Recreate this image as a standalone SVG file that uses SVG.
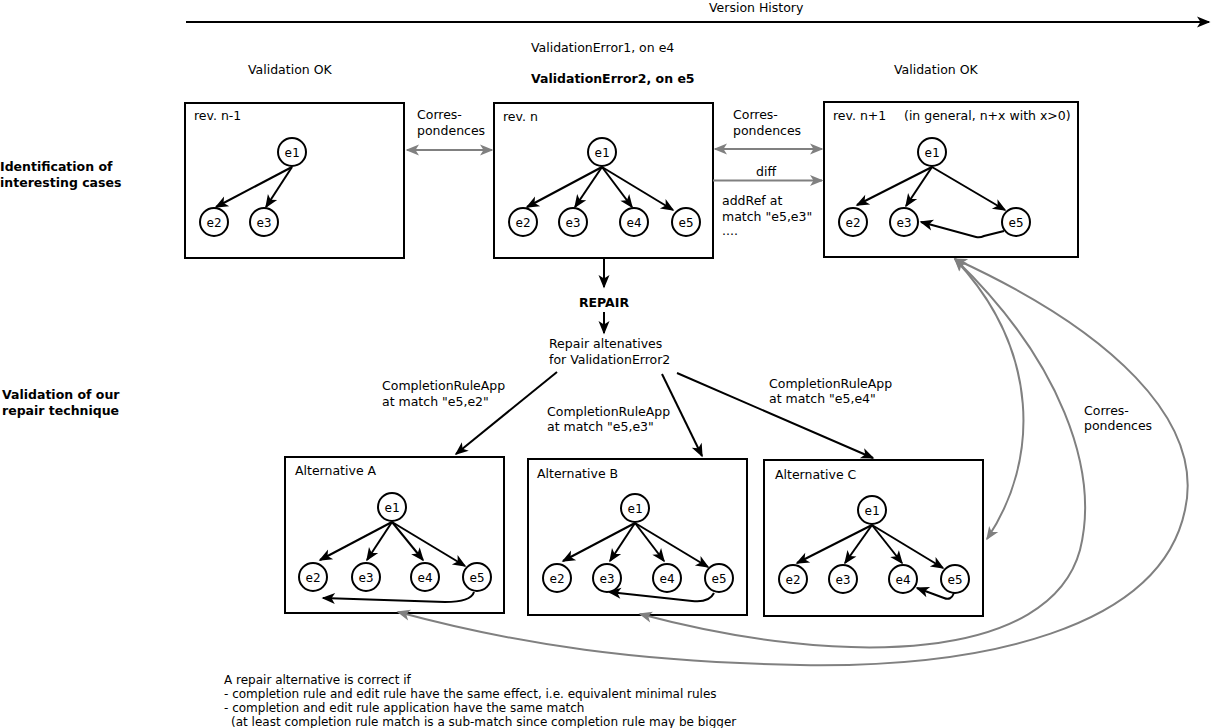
<svg xmlns="http://www.w3.org/2000/svg" width="1214" height="728" viewBox="0 0 1214 728">
<style>
.t{font-family:"DejaVu Sans",sans-serif;font-size:12.5px;fill:#000}
.s{font-family:"DejaVu Sans",sans-serif;font-size:12px;fill:#000}
.b{font-family:"DejaVu Sans",sans-serif;font-size:12.5px;font-weight:bold;fill:#000}
.m{font-family:"DejaVu Sans Mono",monospace;font-size:12.5px;text-anchor:middle;fill:#000}
.box{fill:#fff;stroke:#000;stroke-width:2}
.n{fill:#fff;stroke:#000;stroke-width:2}
.e{fill:none;stroke:#000;stroke-width:2;marker-end:url(#ab)}
.g{fill:none;stroke:#808080;stroke-width:2}
</style>
<defs>
<marker id="ab" markerUnits="userSpaceOnUse" viewBox="-13 -6 15 12" refX="0" refY="0" markerWidth="15" markerHeight="12" orient="auto">
<path d="M1.5,0 L-12,-5.5 L-8.5,0 L-12,5.5 Z" fill="#000"/>
</marker>
<marker id="ag" markerUnits="userSpaceOnUse" viewBox="-13 -6 15 12" refX="0" refY="0" markerWidth="15" markerHeight="12" orient="auto-start-reverse">
<path d="M1.5,0 L-12,-5.5 L-8.5,0 L-12,5.5 Z" fill="#808080"/>
</marker>
</defs>
<rect width="1214" height="728" fill="#fff"/>

<g id="labels">
<text class="t" x="709" y="12">Version History</text>
<text class="t" x="531" y="52">ValidationError1, on e4</text>
<text class="t" x="248" y="74">Validation OK</text>
<text class="b" x="531" y="83">ValidationError2, on e5</text>
<text class="t" x="894" y="74">Validation OK</text>
<text class="b" x="0" y="171">Identification of</text>
<text class="b" x="0" y="187">interesting cases</text>
<text class="b" x="2" y="399">Validation of our</text>
<text class="b" x="2" y="415">repair technique</text>
<text class="t" x="417" y="119">Corres-</text>
<text class="t" x="417" y="135">pondences</text>
<text class="t" x="733" y="119">Corres-</text>
<text class="t" x="733" y="135">pondences</text>
<text class="t" x="756" y="176">diff</text>
<text class="t" x="722" y="205">addRef at</text>
<text class="t" x="722" y="221">match &quot;e5,e3&quot;</text>
<text class="t" x="722" y="235">....</text>
<text class="b" x="604" y="307" text-anchor="middle">REPAIR</text>
<text class="t" x="549" y="348">Repair altenatives</text>
<text class="t" x="549" y="364">for ValidationError2</text>
<text class="t" x="382" y="390">CompletionRuleApp</text>
<text class="t" x="382" y="406">at match &quot;e5,e2&quot;</text>
<text class="t" x="547" y="416">CompletionRuleApp</text>
<text class="t" x="547" y="431">at match &quot;e5,e3&quot;</text>
<text class="t" x="769" y="388">CompletionRuleApp</text>
<text class="t" x="769" y="403">at match &quot;e5,e4&quot;</text>
<text class="t" x="1084" y="415">Corres-</text>
<text class="t" x="1084" y="430">pondences</text>
<text class="s" x="224" y="684">A repair alternative is correct if</text>
<text class="s" x="224" y="698">- completion rule and edit rule have the same effect, i.e. equivalent minimal rules</text>
<text class="s" x="224" y="712">- completion and edit rule application have the same match</text>
<text class="s" x="231" y="726">(at least completion rule match is a sub-match since completion rule may be bigger</text>
</g>

<g id="rev-n-1">
<rect class="box" x="185" y="103" width="219" height="155"/>
<text class="t" x="194" y="120">rev. n-1</text>
<path class="e" d="M292,167 L216,207"/>
<path class="e" d="M292,167 L266,207"/>
<circle class="n" cx="292" cy="152" r="14"/><text class="m" x="292" y="156.5">e1</text>
<circle class="n" cx="214" cy="222" r="14"/><text class="m" x="214" y="226.5">e2</text>
<circle class="n" cx="264" cy="222" r="14"/><text class="m" x="264" y="226.5">e3</text>
</g>

<g id="rev-n">
<rect class="box" x="494" y="103" width="219" height="155"/>
<text class="t" x="503" y="121">rev. n</text>
<path class="e" d="M602,167 L527,207"/>
<path class="e" d="M602,167 L575,207"/>
<path class="e" d="M602,167 L632,207"/>
<path class="e" d="M602,167 L673,210"/>
<circle class="n" cx="602" cy="152" r="14"/><text class="m" x="602" y="156.5">e1</text>
<circle class="n" cx="523" cy="222" r="14"/><text class="m" x="523" y="226.5">e2</text>
<circle class="n" cx="573" cy="222" r="14"/><text class="m" x="573" y="226.5">e3</text>
<circle class="n" cx="634" cy="222" r="14"/><text class="m" x="634" y="226.5">e4</text>
<circle class="n" cx="686" cy="222" r="14"/><text class="m" x="686" y="226.5">e5</text>
</g>

<g id="rev-n1">
<rect class="box" x="824" y="102" width="254" height="155"/>
<text class="t" x="833" y="120">rev. n+1</text>
<text class="t" x="904" y="120">(in general, n+x with x&gt;0)</text>
<path class="e" d="M932,167 L857,205"/>
<path class="e" d="M932,167 L906,206"/>
<path class="e" d="M932,167 L1005,210"/>
<path class="e" d="M1004,231 L984,236 Q980,238 976,237 L921,222"/>
<circle class="n" cx="932" cy="152" r="14"/><text class="m" x="932" y="156.5">e1</text>
<circle class="n" cx="853" cy="222" r="14"/><text class="m" x="853" y="226.5">e2</text>
<circle class="n" cx="904" cy="222" r="14"/><text class="m" x="904" y="226.5">e3</text>
<circle class="n" cx="1016" cy="222" r="14"/><text class="m" x="1016" y="226.5">e5</text>
</g>

<g id="alt-a">
<rect class="box" x="285" y="457" width="219" height="156"/>
<text class="t" x="295" y="475">Alternative A</text>
<path class="e" d="M392,522 L320,560"/>
<path class="e" d="M392,522 L367,560"/>
<path class="e" d="M392,522 L423,560"/>
<path class="e" d="M392,522 L465,566"/>
<path class="e" d="M474,592 Q471,602 445,602 L323,598"/>
<circle class="n" cx="392" cy="507" r="14"/><text class="m" x="392" y="511.5">e1</text>
<circle class="n" cx="313" cy="577" r="14"/><text class="m" x="313" y="581.5">e2</text>
<circle class="n" cx="366" cy="577" r="14"/><text class="m" x="366" y="581.5">e3</text>
<circle class="n" cx="425" cy="577" r="14"/><text class="m" x="425" y="581.5">e4</text>
<circle class="n" cx="477" cy="577" r="14"/><text class="m" x="477" y="581.5">e5</text>
</g>

<g id="alt-b">
<rect class="box" x="528" y="459" width="219" height="156"/>
<text class="t" x="537" y="478">Alternative B</text>
<path class="e" d="M635,523 L563,561"/>
<path class="e" d="M635,523 L610,561"/>
<path class="e" d="M635,523 L664,561"/>
<path class="e" d="M635,523 L708,567"/>
<path class="e" d="M714,593 Q709,603 692,601 L609,592"/>
<circle class="n" cx="635" cy="508" r="14"/><text class="m" x="635" y="512.5">e1</text>
<circle class="n" cx="557" cy="578" r="14"/><text class="m" x="557" y="582.5">e2</text>
<circle class="n" cx="607" cy="578" r="14"/><text class="m" x="607" y="582.5">e3</text>
<circle class="n" cx="667" cy="578" r="14"/><text class="m" x="667" y="582.5">e4</text>
<circle class="n" cx="719" cy="578" r="14"/><text class="m" x="719" y="582.5">e5</text>
</g>

<g id="alt-c">
<rect class="box" x="764" y="460" width="219" height="156"/>
<text class="t" x="775" y="479">Alternative C</text>
<path class="e" d="M872,525 L797,563"/>
<path class="e" d="M872,525 L845,563"/>
<path class="e" d="M872,525 L902,563"/>
<path class="e" d="M872,525 L943,568"/>
<path class="e" d="M954,593 Q951,601 944,598 L917,588"/>
<circle class="n" cx="872" cy="510" r="14"/><text class="m" x="872" y="514.5">e1</text>
<circle class="n" cx="793" cy="579" r="14"/><text class="m" x="793" y="583.5">e2</text>
<circle class="n" cx="843" cy="579" r="14"/><text class="m" x="843" y="583.5">e3</text>
<circle class="n" cx="903" cy="579" r="14"/><text class="m" x="903" y="583.5">e4</text>
<circle class="n" cx="955" cy="579" r="14"/><text class="m" x="955" y="583.5">e5</text>
</g>

<g id="connectors">
<path class="e" d="M186,22 L1209,22"/>
<path class="g" d="M407,150 L492,150" marker-start="url(#ag)" marker-end="url(#ag)"/>
<path class="g" d="M715,149 L822,149" marker-start="url(#ag)" marker-end="url(#ag)"/>
<path class="g" d="M713,180.5 L822,180.5" marker-end="url(#ag)"/>
<path class="e" d="M604,258 L604,287"/>
<path class="e" d="M604,312 L604,333"/>
<path class="e" d="M557,372 L456,454"/>
<path class="e" d="M662,374 L702,456"/>
<path class="e" d="M677,373 L873,458"/>
<path class="g" d="M955,259 C1040,350 1040,460 987,539" marker-start="url(#ag)" marker-end="url(#ag)"/>
<path class="g" d="M955,259 C1060,360 1100,470 1080,550 C1050,660 850,670 640,614" marker-start="url(#ag)" marker-end="url(#ag)"/>
<path class="g" d="M955,259 C1110,330 1205,420 1185,510 C1160,630 980,668 800,665 C640,662 520,645 398,612" marker-start="url(#ag)" marker-end="url(#ag)"/>
</g>
</svg>
